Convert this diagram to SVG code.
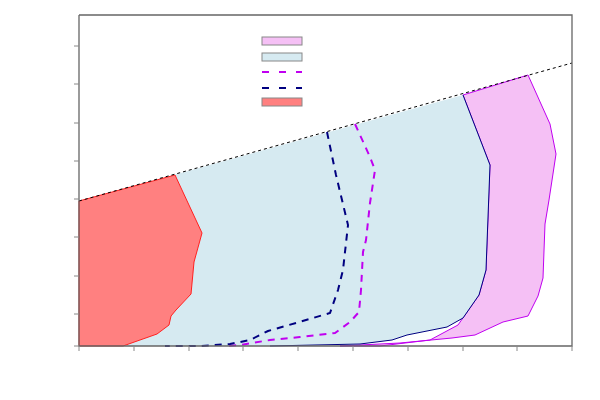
<svg xmlns="http://www.w3.org/2000/svg" width="600" height="400" viewBox="0 0 600 400">
<style>.ax{stroke:#666;stroke-width:1.3;fill:none}.tk{stroke:#888;stroke-width:1}.lg{stroke:#888;stroke-width:1}</style>
<rect width="600" height="400" fill="#fff"/>
<g id="areas">
<polygon fill="#f5c0f5" stroke="#c000f0" stroke-width="1" points="463,95 528,75 550,124 556,154 549,200 545,224 543,278 538,296 528,316 503,322 475,335 452,338 400,343 340,346 380,346 430,340 458,325 479,295 486,270 490,165"/>
<polygon fill="#d6eaf1" points="79,201 463,95 490,165 486,270 479,295 463,318 447,327 407,335 392,340 360,344 270,346 123,346 157,334 169,325 171,316 176,310 191,294 194,262 202,233 175,175"/>
<polyline fill="none" stroke="#000080" stroke-width="1" points="463,95 490,165 486,270 479,295 463,318 447,327 407,335 392,340 360,344 270,346"/>
<polygon fill="#ff8080" stroke="#ff2020" stroke-width="1" points="79,201 175,175 202,233 194,262 191,294 176,310 171,316 169,325 157,334 123,346 79,346"/>
<line x1="79" y1="201" x2="572" y2="63" stroke="#000" stroke-width="1" stroke-dasharray="3,3"/>
</g>
<g id="connectors">
<polyline fill="none" stroke="#c000f0" stroke-width="2" stroke-dasharray="7,6" points="355,124 370,157 375,170 370,203 366,240 363,252 361,290 359,312 350,322 335,333 300,337 270,340 240,345 226,346"/>
<polyline fill="none" stroke="#000080" stroke-width="2" stroke-dasharray="7,6" points="327,132 336,175 348,225 343,270 338,290 330,313 313,318 289,325 268,331 250,340 230,344 200,346 165,346"/>
</g>
<g id="axes">
<polyline class="ax" points="79,15 79,346 572,346 572,15 79,15"/>
<path class="tk" d="M74,46H79M74,84H79M74,123H79M74,161H79M74,199H79M74,237H79M74,276H79M74,314H79M74,346H79M79,346V351M134,346V351M189,346V351M243,346V351M298,346V351M353,346V351M408,346V351M463,346V351M517,346V351M572,346V351"/>
</g>
<g id="legend">
<rect class="lg" x="262" y="37" width="40" height="8" fill="#f5c0f5"/>
<rect class="lg" x="262" y="53" width="40" height="8" fill="#d6eaf1"/>
<line x1="262" y1="72" x2="302" y2="72" stroke="#c000f0" stroke-width="2" stroke-dasharray="7,10"/>
<line x1="262" y1="88" x2="302" y2="88" stroke="#000080" stroke-width="2" stroke-dasharray="7,10"/>
<rect class="lg" x="262" y="98" width="40" height="8" fill="#ff8080"/>
</g>
</svg>
